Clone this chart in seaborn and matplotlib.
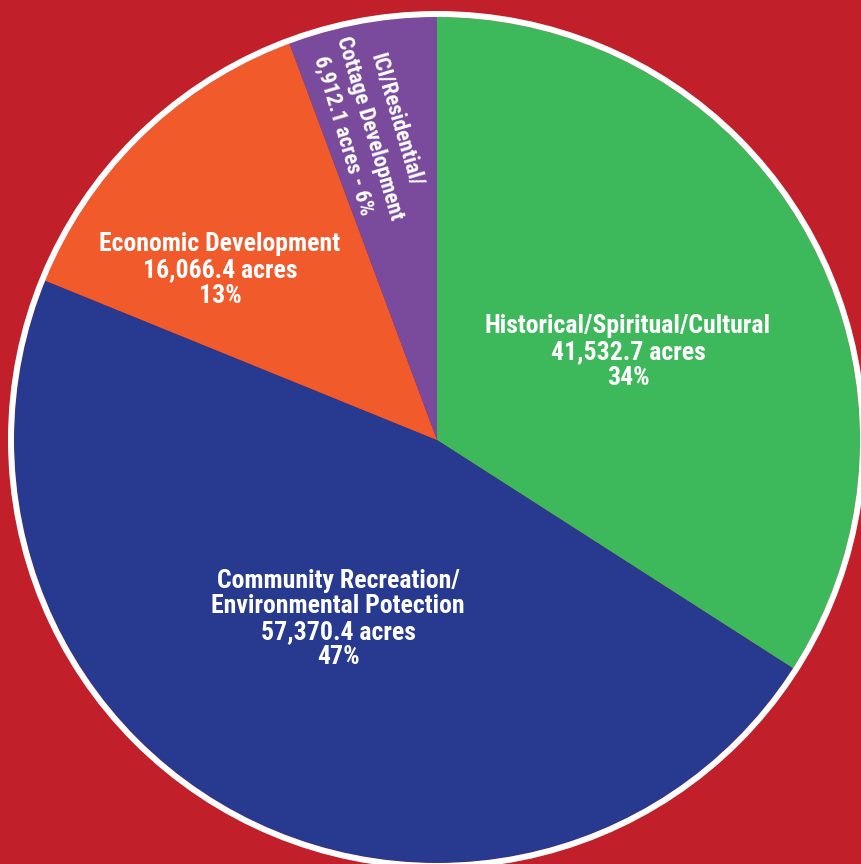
import matplotlib
matplotlib.use("Agg")
import matplotlib.pyplot as plt
import seaborn as sns
from matplotlib.patches import Circle
from matplotlib import font_manager

categories = ["Historical/Spiritual/Cultural",
              "Community Recreation/\nEnvironmental Potection",
              "Economic Development",
              "ICI/Residential/\nCottage Development"]
acres = [41532.7, 57370.4, 16066.4, 6912.1]
acre_labels = ["41,532.7", "57,370.4", "16,066.4", "6,912.1"]
percent_labels = ["34%", "47%", "13%", "6%"]
colors = ["#3DB85B", "#283A8F", "#F15A2B", "#7A4A9C"]

sns.set_theme(style="white")
names = set(f.name for f in font_manager.fontManager.ttflist)
chosen = None
for cand in ["Liberation Sans Narrow", "Roboto Condensed", "Open Sans Condensed"]:
    if cand in names:
        chosen = cand
        break
if chosen:
    plt.rcParams["font.family"] = [chosen, "DejaVu Sans"]
    stretch = "normal"
    fs = 18.5
else:
    plt.rcParams["font.family"] = ["DejaVu Sans"]
    stretch = "condensed"
    fs = 16

bg = "#C1202A"
W, H = 861, 864
cx, cy, R = 437, 440, 423
fig = plt.figure(figsize=(W / 100, H / 100), dpi=100, facecolor=bg)
ax = fig.add_axes([0, 0, 1, 1])
ax.set_facecolor(bg)

pal = sns.color_palette(colors)
ax.pie(acres, colors=pal, startangle=90, counterclock=False, radius=1,
       wedgeprops=dict(linewidth=0))
ax.add_patch(Circle((0, 0), 1 + 3 / R, fill=False, edgecolor="white",
                    linewidth=6 * 72 / 100, zorder=5))
ax.set_aspect("auto")
ax.set_xlim(-cx / R, (W - cx) / R)
ax.set_ylim(-(H - cy) / R, cy / R)
ax.axis("off")

def d(px, py):
    return ((px - cx) / R, (cy - py) / R)

kw = dict(color="white", fontweight="bold", fontstretch=stretch,
          ha="center", va="center", zorder=6)
ax.text(*d(628, 352), f"{categories[0]}\n{acre_labels[0]} acres\n{percent_labels[0]}",
        fontsize=fs, linespacing=1.08, **kw)
ax.text(*d(338, 619), f"{categories[1]}\n{acre_labels[1]} acres\n{percent_labels[1]}",
        fontsize=fs, linespacing=1.08, **kw)
ax.text(*d(220, 270), f"{categories[2]}\n{acre_labels[2]} acres\n{percent_labels[2]}",
        fontsize=fs, linespacing=1.08, **kw)
ax.text(*d(370, 128), f"{categories[3]}\n{acre_labels[3]} acres - {percent_labels[3]}",
        fontsize=fs * 0.86, linespacing=1.3,
        rotation=-73.5, rotation_mode="anchor", **kw)

fig.savefig("out.png", dpi=100, facecolor=bg)
